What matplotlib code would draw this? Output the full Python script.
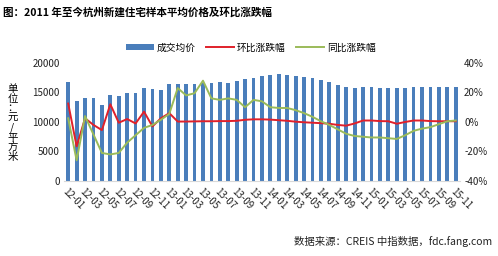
import matplotlib
matplotlib.use("Agg")
import matplotlib.pyplot as plt
import numpy as np

plt.rcParams['font.family'] = ['Noto Sans CJK SC', 'DejaVu Sans']

# months 2012-01 .. 2015-11
months = ["%02d-%02d" % (y, m) for y in (12, 13, 14, 15) for m in range(1, 13)][:47]

price = [16700, 13600, 14000, 14100, 12900, 14500, 14400, 14900, 14900, 15800,
         15600, 15500, 16400, 16400, 16400, 16500, 16600, 16600, 16700, 16600,
         16900, 17200, 17500, 17800, 18000, 18100, 18000, 17800, 17600, 17400,
         17100, 16700, 16300, 15900, 15800, 15900, 15900, 15800, 15800, 15800,
         15700, 15900, 15900, 16000, 16000, 16000, 16000]

mom = [12.5, -16.5, 2.5, -2.0, -5.5, 12.0, -0.5, 2.0, -1.0, 7.0,
       -3.0, 2.5, 6.0, 0.3, 0.3, 0.4, 0.5, 0.5, 0.6, 0.6,
       0.8, 1.5, 1.8, 1.8, 1.6, 1.2, 0.8, 0.2, -0.2, -0.5,
       -0.8, -1.2, -2.0, -2.5, -1.0, 1.0, 1.0, 0.6, 0.5, -1.2,
       0.0, 1.0, 1.0, 0.6, 0.5, 0.5, 0.5]

yoy = [2.5, -26.0, 4.0, -8.5, -21.0, -22.0, -21.0, -14.0, -9.0, -4.0,
       -2.0, 1.5, 5.5, 23.0, 18.0, 19.5, 28.0, 16.0, 15.0, 16.0,
       15.0, 10.0, 15.0, 14.0, 10.0, 9.5, 9.5, 8.0, 6.0, 3.5,
       0.5, -2.0, -5.0, -8.0, -9.5, -10.0, -10.5, -10.5, -11.0, -11.5,
       -9.0, -6.0, -4.5, -3.5, -1.5, 0.5, 1.0]

x = np.arange(len(months))

fig = plt.figure(figsize=(4.98, 2.56), dpi=100)
ax = fig.add_axes([0.1285, 0.293, 0.795, 0.461])
ax2 = ax.twinx()

bars = ax.bar(x, price, width=0.45, color='#4a7ebb', label='成交均价', zorder=2)
l1, = ax2.plot(x, mom, color='#e0202a', lw=1.4, label='环比涨跌幅', zorder=3)
l2, = ax2.plot(x, yoy, color='#9bbb59', lw=1.4, label='同比涨跌幅', zorder=3)

ax.set_zorder(1)
ax2.set_zorder(2)
ax.set_xlim(-0.5, len(months) - 0.5)
ax.set_ylim(0, 20000)
ax.set_yticks([0, 5000, 10000, 15000, 20000])
ax2.set_ylim(-40, 40)
ax2.set_yticks([-40, -20, 0, 20, 40])
ax2.set_yticklabels(['-40%', '-20%', '0%', '20%', '40%'])

ax.set_xticks(x[::2])
ax.set_xticklabels(months[::2], rotation=-45, ha='left', rotation_mode='anchor')

for a in (ax, ax2):
    for s in a.spines.values():
        s.set_visible(False)
    a.tick_params(length=0, labelsize=7, colors='#222222', pad=3)
ax.tick_params(axis='x', pad=4)
ax.spines['bottom'].set_visible(True)
ax.spines['bottom'].set_color('#d9d9d9')

fig.text(0.006, 0.95, '图：2011 年至今杭州新建住宅样本平均价格及环比涨跌幅',
         fontsize=7.6, fontweight='bold', ha='left', va='center')
fig.text(0.025, 0.52, '\n'.join('单位：元/平方米'), fontsize=7.5,
         ha='center', va='center', linespacing=0.95)
fig.text(0.988, 0.055, '数据来源：CREIS 中指数据，fdc.fang.com', fontsize=7.5,
         ha='right', va='center', color='#222222')

fig.legend(handles=[bars, l1, l2], loc='center', bbox_to_anchor=(0.503, 0.815),
           ncol=3, frameon=False, fontsize=7, handlelength=2.9, handleheight=0.5,
           columnspacing=1.1, handletextpad=0.25)

fig.savefig('out.png', dpi=100)
